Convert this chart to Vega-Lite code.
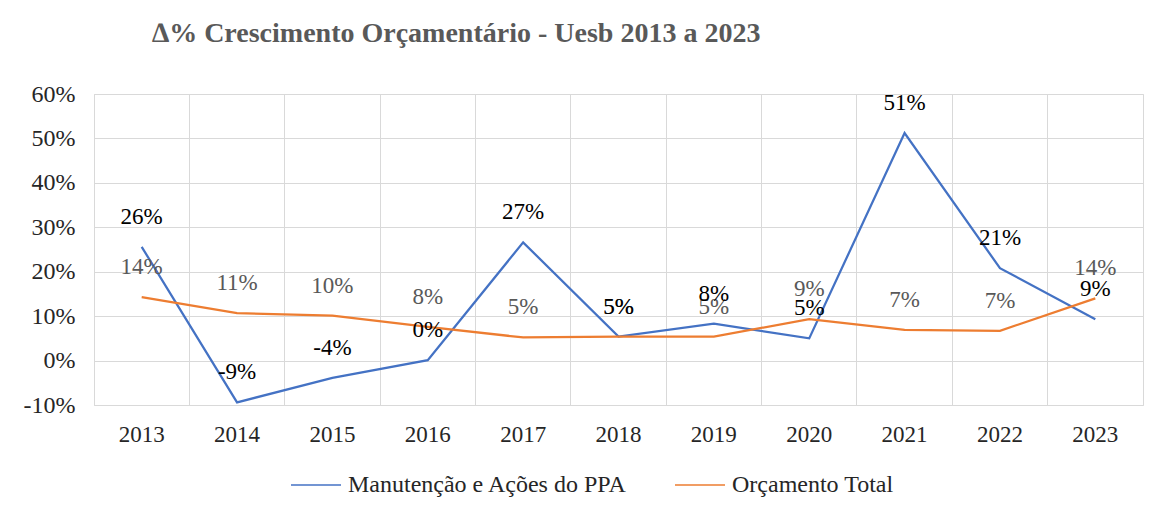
{
  "$schema": "https://vega.github.io/schema/vega-lite/v6.json",
  "autosize": "none",
  "width": 1049,
  "height": 311,
  "padding": {"left": 94, "top": 94, "right": 17, "bottom": 110},
  "background": "white",
  "config": {
    "locale": {"number": {"decimal": ".", "thousands": ",", "grouping": [3], "currency": ["$", ""], "minus": "-"}},
    "view": {"stroke": "#d9d9d9", "strokeWidth": 1},
    "font": "Liberation Serif"
  },
  "title": {
    "text": "∆%  Crescimento Orçamentário - Uesb 2013 a 2023",
    "anchor": "start",
    "frame": "group",
    "dx": 58,
    "offset": 34,
    "font": "Liberation Serif",
    "fontSize": 28,
    "fontWeight": "bold",
    "color": "#595959"
  },
  "data": {
    "values": [
      {"year": "2013", "series": "Manutenção e Ações do PPA", "value": 0.256},
      {"year": "2014", "series": "Manutenção e Ações do PPA", "value": -0.094},
      {"year": "2015", "series": "Manutenção e Ações do PPA", "value": -0.039},
      {"year": "2016", "series": "Manutenção e Ações do PPA", "value": 0.001},
      {"year": "2017", "series": "Manutenção e Ações do PPA", "value": 0.266},
      {"year": "2018", "series": "Manutenção e Ações do PPA", "value": 0.054},
      {"year": "2019", "series": "Manutenção e Ações do PPA", "value": 0.083},
      {"year": "2020", "series": "Manutenção e Ações do PPA", "value": 0.05},
      {"year": "2021", "series": "Manutenção e Ações do PPA", "value": 0.512},
      {"year": "2022", "series": "Manutenção e Ações do PPA", "value": 0.208},
      {"year": "2023", "series": "Manutenção e Ações do PPA", "value": 0.093},
      {"year": "2013", "series": "Orçamento Total", "value": 0.143},
      {"year": "2014", "series": "Orçamento Total", "value": 0.107},
      {"year": "2015", "series": "Orçamento Total", "value": 0.101},
      {"year": "2016", "series": "Orçamento Total", "value": 0.076},
      {"year": "2017", "series": "Orçamento Total", "value": 0.052},
      {"year": "2018", "series": "Orçamento Total", "value": 0.054},
      {"year": "2019", "series": "Orçamento Total", "value": 0.054},
      {"year": "2020", "series": "Orçamento Total", "value": 0.093},
      {"year": "2021", "series": "Orçamento Total", "value": 0.069},
      {"year": "2022", "series": "Orçamento Total", "value": 0.067},
      {"year": "2023", "series": "Orçamento Total", "value": 0.14}
    ]
  },
  "encoding": {
    "x": {
      "field": "year",
      "type": "ordinal",
      "scale": {"type": "band", "paddingInner": 0, "paddingOuter": 0},
      "axis": {
        "title": null,
        "labelAngle": 0,
        "bandPosition": 0,
        "grid": true,
        "gridColor": "#d9d9d9",
        "ticks": false,
        "domain": false,
        "labelPadding": 18,
        "labelFont": "Liberation Serif",
        "labelFontSize": 23,
        "labelColor": "#262626"
      }
    },
    "y": {
      "field": "value",
      "type": "quantitative",
      "scale": {"domain": [-0.1, 0.6], "nice": false, "zero": false},
      "axis": {
        "title": null,
        "format": ".0%",
        "values": [-0.1, 0, 0.1, 0.2, 0.3, 0.4, 0.5, 0.6],
        "grid": true,
        "gridColor": "#d9d9d9",
        "ticks": false,
        "domain": false,
        "labelPadding": 19,
        "labelFont": "Liberation Serif",
        "labelFontSize": 24,
        "labelColor": "#262626"
      }
    }
  },
  "layer": [
    {
      "mark": {"type": "line", "strokeWidth": 2.25},
      "encoding": {
        "color": {
          "field": "series",
          "type": "nominal",
          "scale": {"domain": ["Manutenção e Ações do PPA", "Orçamento Total"], "range": ["#4472c4", "#ed7d31"]},
          "legend": {
            "title": null,
            "orient": "none",
            "legendX": 196,
            "legendY": 365,
            "direction": "horizontal",
            "symbolType": "stroke",
            "symbolSize": 2500,
            "symbolStrokeWidth": 1.5,
            "labelFont": "Liberation Serif",
            "labelFontSize": 24,
            "labelColor": "#262626",
            "labelLimit": 0,
            "labelOffset": 6,
            "columnPadding": 44
          }
        }
      }
    },
    {
      "transform": [{"filter": "datum.series === 'Orçamento Total'"}],
      "mark": {"type": "text", "dy": -30, "font": "Liberation Serif", "fontSize": 23, "color": "#595959"},
      "encoding": {"text": {"field": "value", "type": "quantitative", "format": ".0%"}}
    },
    {
      "transform": [{"filter": "datum.series === 'Manutenção e Ações do PPA'"}],
      "mark": {"type": "text", "dy": -30, "font": "Liberation Serif", "fontSize": 23, "color": "#000000"},
      "encoding": {"text": {"field": "value", "type": "quantitative", "format": ".0%"}}
    }
  ]
}
